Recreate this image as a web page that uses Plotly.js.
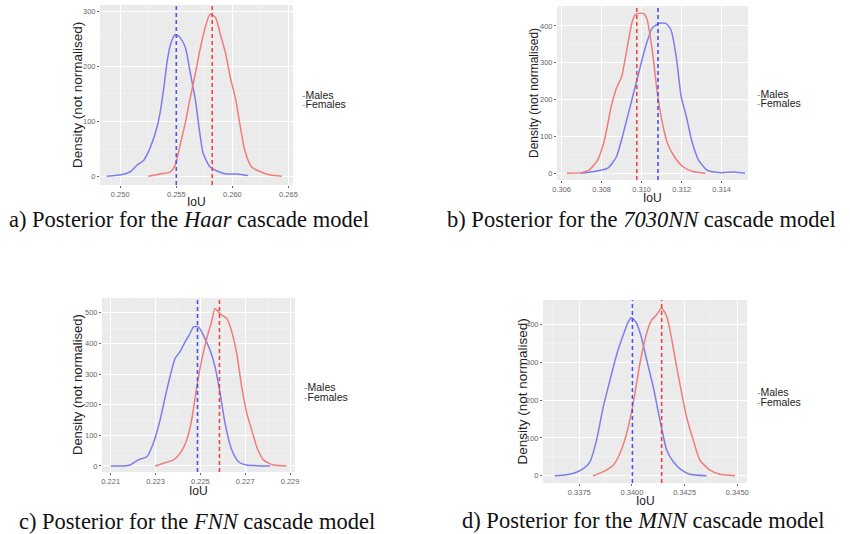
<!DOCTYPE html>
<html>
<head>
<meta charset="utf-8">
<script src="https://cdn.plot.ly/plotly-3.0.1.min.js"></script>
<style>html,body{margin:0;padding:0;background:#fff;}#chart{width:850px;height:534px;}</style>
</head>
<body>
<div id="chart"></div>
<script>
// ---------- data ----------
const seriesNames = ["Males", "Females"];

// a) Haar
const haarMaleX = [0.2488,0.2502,0.2509,0.2515,0.2521,0.2527,0.2533,0.2536,0.2539,0.2542,0.2545,0.2549,0.2553,0.2558,0.2562,0.2567,0.2571,0.2574,0.2580,0.2588,0.2595,0.2604,0.2614];
const haarMaleY = [1,4,9,21,30,54,91,121,163,211,241,257,253,235,193,139,78,42,18,9,5,5,2];
const haarFemaleX = [0.2525,0.2536,0.2545,0.2549,0.2553,0.2558,0.2562,0.2567,0.2571,0.2576,0.2580,0.2585,0.2589,0.2594,0.2598,0.2603,0.2607,0.2611,0.2617,0.2625,0.2634,0.2644];
const haarFemaleY = [1,5,9,21,54,97,139,187,229,272,294,288,260,223,181,139,91,48,18,9,3,1];
const haarMeans = [0.2550, 0.2582];

// b) 7030NN
const nn7030MaleX = [0.30694,0.30763,0.30831,0.30874,0.30917,0.30951,0.30985,0.31020,0.31053,0.31087,0.31121,0.31147,0.31173,0.31198,0.31224,0.31250,0.31285,0.31327,0.31397,0.31465,0.31517];
const nn7030MaleY = [0,5,14,45,127,199,271,344,394,407,407,389,317,208,154,90,36,9,2,4,0];
const nn7030FemaleX = [0.30626,0.30694,0.30737,0.30780,0.30814,0.30848,0.30874,0.30900,0.30926,0.30951,0.30968,0.30985,0.31011,0.31028,0.31053,0.31079,0.31104,0.31130,0.31164,0.31207,0.31258,0.31318];
const nn7030FemaleY = [0,2,9,36,90,181,231,262,335,407,430,434,433,416,335,217,136,81,45,18,5,0];
const nn7030Means = [0.31082, 0.30976];

// c) FNN
const fnnMaleX = [0.22100,0.22157,0.22186,0.22223,0.22261,0.22290,0.22320,0.22350,0.22372,0.22387,0.22409,0.22432,0.22454,0.22469,0.22491,0.22513,0.22543,0.22565,0.22588,0.22610,0.22640,0.22670,0.22707,0.22751,0.22811];
const fnnMaleY = [0,0,3,20,30,74,150,248,313,351,373,405,433,454,454,427,378,324,237,139,52,14,3,1,0];
const fnnFemaleX = [0.22298,0.22335,0.22380,0.22409,0.22439,0.22461,0.22484,0.22506,0.22528,0.22550,0.22565,0.22580,0.22595,0.22617,0.22640,0.22662,0.22684,0.22707,0.22729,0.22751,0.22781,0.22826,0.22885];
const fnnFemaleY = [0,9,20,41,85,150,259,346,416,471,514,503,492,482,438,367,259,172,117,63,20,3,0];
const fnnMeans = [0.22487, 0.22585];

// d) MNN
const mnnMaleX = [0.33634,0.33690,0.33730,0.33769,0.33801,0.33832,0.33864,0.33896,0.33927,0.33959,0.33983,0.33998,0.34022,0.34046,0.34070,0.34101,0.34133,0.34165,0.34196,0.34236,0.34275,0.34354];
const mnnMaleY = [0,3,8,19,37,94,182,253,319,372,407,418,403,363,306,235,147,68,37,15,4,0];
const mnnFemaleX = [0.33816,0.33864,0.33911,0.33943,0.33975,0.34006,0.34038,0.34070,0.34093,0.34117,0.34141,0.34165,0.34188,0.34212,0.34236,0.34259,0.34291,0.34323,0.34370,0.34418,0.34489];
const mnnFemaleY = [0,11,28,59,112,191,297,377,411,425,443,421,363,288,218,156,94,41,15,4,0];
const mnnMeans = [0.34002, 0.34141];

const captions = [
  "a) Posterior for the <i>Haar</i> cascade model",
  "b) Posterior for the <i>7030NN</i> cascade model",
  "c) Posterior for the <i>FNN</i> cascade model",
  "d) Posterior for the <i>MNN</i> cascade model"
];

// ---------- styling / layout ----------
const W = 850, H = 534;
const px = v => v / W;
const py = v => 1 - v / H;
const blueLine = "rgb(125,125,235)", redLine = "rgb(240,125,125)";
const blueDash = "rgb(80,80,235)", redDash = "rgb(235,70,70)";

const panels = [
  {mx: haarMaleX, my: haarMaleY, fx: haarFemaleX, fy: haarFemaleY, means: haarMeans,
   box: [100, 293, 5, 185], xr: [0.2482, 0.2654], yr: [-15, 311], tick0: 0.250, dtick: 0.005, fmt: ".3f", ydtick: 100,
   legend: [300, 95], ytitleX: 77, ytitleSize: 13.5, xtitleY: 202},
  {mx: nn7030MaleX, my: nn7030MaleY, fx: nn7030FemaleX, fy: nn7030FemaleY, means: nn7030Means,
   box: [557, 748, 6, 180], xr: [0.30577, 0.31532], yr: [-18, 454], tick0: 0.306, dtick: 0.002, fmt: ".3f", ydtick: 100,
   legend: [755, 94], ytitleX: 534, ytitleSize: 12, xtitleY: 198},
  {mx: fnnMaleX, my: fnnMaleY, fx: fnnFemaleX, fy: fnnFemaleY, means: fnnMeans,
   box: [102, 295, 298, 472], xr: [0.22061, 0.22922], yr: [-19.6, 548], tick0: 0.221, dtick: 0.002, fmt: ".3f", ydtick: 100,
   legend: [302, 387], ytitleX: 77, ytitleSize: 13, xtitleY: 491},
  {mx: mnnMaleX, my: mnnMaleY, fx: mnnFemaleX, fy: mnnFemaleY, means: mnnMeans,
   box: [543, 747, 300, 483], xr: [0.33578, 0.34546], yr: [-19, 464], tick0: 0.3375, dtick: 0.0025, fmt: ".4f", ydtick: 100,
   legend: [755, 392], ytitleX: 522, ytitleSize: 13.5, xtitleY: 501}
];
const captionPos = [[7, 219], [445, 219], [17, 521], [460, 520]];

const traces = [];
const layout = {
  width: W, height: H,
  margin: {l: 0, r: 0, t: 0, b: 0},
  paper_bgcolor: "#ffffff",
  plot_bgcolor: "#ebebeb",
  showlegend: false,
  font: {family: "Liberation Sans, Arial, sans-serif", color: "#4d4d4d"},
  annotations: []
};

panels.forEach((p, i) => {
  const n = i + 1;
  const xa = "x" + (n === 1 ? "" : n), ya = "y" + (n === 1 ? "" : n);
  const xk = "xaxis" + (n === 1 ? "" : n), yk = "yaxis" + (n === 1 ? "" : n);
  const [l, r, t, b] = p.box;
  const axisCommon = {
    showgrid: true, gridcolor: "#ffffff", gridwidth: 1,
    zeroline: false, showline: false,
    ticks: "outside", ticklen: 2, tickcolor: "#666", tickwidth: 1,
    tickfont: {size: 7.5, color: "#666", family: "Liberation Sans, Arial, sans-serif"},
    fixedrange: true, ticklabelstandoff: 0
  };
  layout[xk] = Object.assign({}, axisCommon, {
    domain: [px(l), px(r)], anchor: ya, range: p.xr,
    tickmode: "linear", tick0: p.tick0, dtick: p.dtick, tickformat: p.fmt,
    minor: {showgrid: true, gridcolor: "#f4f4f4", gridwidth: 0.6, dtick: p.dtick / 2, tick0: p.tick0}
  });
  layout[yk] = Object.assign({}, axisCommon, {
    domain: [py(b), py(t)], anchor: xa, range: p.yr,
    tickmode: "linear", tick0: 0, dtick: p.ydtick,
    minor: {showgrid: true, gridcolor: "#f4f4f4", gridwidth: 0.6, dtick: p.ydtick / 2, tick0: 0}
  });
  traces.push({x: p.mx, y: p.my, xaxis: xa, yaxis: ya, type: "scatter", mode: "lines", name: seriesNames[0],
    line: {color: blueLine, width: 1.5, shape: "spline", smoothing: 0.6}, hoverinfo: "skip"});
  traces.push({x: p.fx, y: p.fy, xaxis: xa, yaxis: ya, type: "scatter", mode: "lines", name: seriesNames[1],
    line: {color: redLine, width: 1.5, shape: "spline", smoothing: 0.6}, hoverinfo: "skip"});
  // mean lines (dashed), spanning the full y range of the panel
  [blueDash, redDash].forEach((c, k) => {
    traces.push({x: [p.means[k], p.means[k]], y: p.yr, xaxis: xa, yaxis: ya, type: "scatter", mode: "lines",
      name: seriesNames[k] + " mean", line: {color: c, width: 1.6, dash: "4px,3px"}, hoverinfo: "skip"});
  });
  // axis titles
  layout.annotations.push({text: "IoU", xref: "paper", yref: "paper", x: px((l + r) / 2), y: py(p.xtitleY),
    showarrow: false, xanchor: "center", yanchor: "middle", font: {size: 12, color: "#222"}});
  layout.annotations.push({text: "Density (not normalised)", xref: "paper", yref: "paper", x: px(p.ytitleX), y: py((t + b) / 2),
    textangle: -90, showarrow: false, xanchor: "center", yanchor: "middle", font: {size: p.ytitleSize, color: "#222"}});
  // legend (tight, as in the reference)
  const [lx, ly] = p.legend;
  [blueLine, redLine].forEach((c, k) => {
    layout.annotations.push({text: '<span style="color:' + c + '">-</span>' + seriesNames[k],
      xref: "paper", yref: "paper", x: px(lx), y: py(ly + k * 9.5), xanchor: "left", yanchor: "middle",
      showarrow: false, font: {size: 10.5, color: "#222"}});
  });
  // caption
  layout.annotations.push({text: captions[i], xref: "paper", yref: "paper",
    x: px(captionPos[i][0]), y: py(captionPos[i][1]), xanchor: "left", yanchor: "middle", showarrow: false,
    font: {family: "Liberation Serif, Times New Roman, serif", size: 22.5, color: "#111"}});
});

Plotly.newPlot("chart", traces, layout, {displayModeBar: false, staticPlot: true});
</script>
</body>
</html>
